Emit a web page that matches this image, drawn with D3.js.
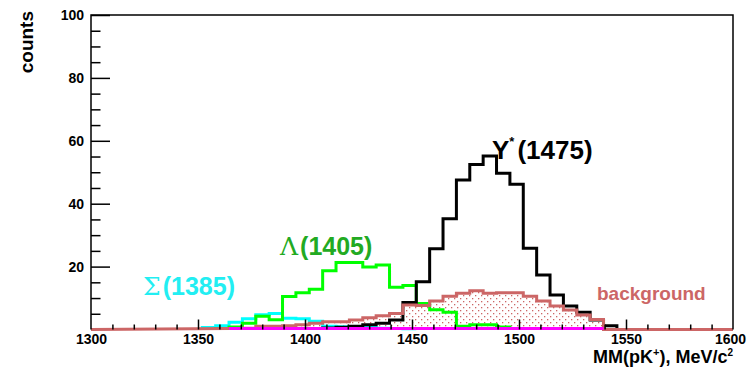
<!DOCTYPE html>
<html>
<head>
<meta charset="utf-8">
<script src="https://cdn.jsdelivr.net/npm/d3@7"></script>
<style>
  body { margin: 0; background: #fff; }
  svg { display: block; font-family: "Liberation Sans", Arial, sans-serif; }
</style>
</head>
<body>
<svg id="chart"></svg>
<script>
var WIDTH = 753;
var HEIGHT = 367;

// binning shared by all histograms (MeV/c^2)
var binStart = 1302;
var binWidth = 6.25;

// counts per bin, each series starts at its own bin index
var bgFirst = 10;
var bgCounts = [0.3, 0.4, 1.0, 1.0, 1.2, 1.5, 2.0, 2.5, 2.5, 3.0, 3.7, 4.4, 5.1,
  7.8, 7.6, 9.1, 10.6, 11.5, 12.3, 11.5, 11.7, 11.7, 10.6, 9.1, 7.5, 6.2, 4.6, 3.2];

var sigmaFirst = 8;
var sigmaCounts = [0.6, 1.2, 2.3, 3.4, 4.7, 5.1, 3.6, 3.4, 2.6, 1.0, 0.9, 0.8, 0.6, 0.4, 0.3, 0.2];

var lambdaFirst = 9;
var lambdaCounts = [0.3, 0.8, 2.0, 4.2, 3.1, 10.5, 11.7, 12.8, 18.7, 21.3, 21.3, 19.9, 20.5,
  13.4, 14.0, 8.3, 6.3, 5.5, 1.0, 1.5, 1.5, 0.8];

var yStarFirst = 16;
var yStarCounts = [0.3, 0.5, 0.7, 1.0, 1.5, 2.0, 3.0, 8.6, 15.2, 25.7, 35.2, 47.5, 52.5, 55.2,
  49.7, 46.2, 25.8, 17.3, 11.0, 7.5, 5.5, 3.0, 1.2];

var otherFirst = 10;
var otherCounts = [0.3, 0.3, 0.3, 0.3, 0.3, 0.3, 0.3, 0.3, 0.3, 0.3, 0.3, 0.3, 0.3, 0.3,
  0.3, 0.3, 0.3, 0.3, 0.3, 0.3, 0.3, 0.3, 0.3, 0.3, 0.3, 0.3, 0.3, 0.3];

var xMajor = [1300, 1350, 1400, 1450, 1500, 1550, 1600];
var yMajor = [20, 40, 60, 80, 100];

var svg = d3.select('#chart')
  .attr('width', WIDTH)
  .attr('height', HEIGHT);

var xScale = d3.scaleLinear().domain([1300, 1600]).range([91, 733]);
var yScale = d3.scaleLinear().domain([0, 100]).range([329.5, 15]);

var defs = svg.append('defs');
var pat = defs.append('pattern')
  .attr('id', 'dots')
  .attr('patternUnits', 'userSpaceOnUse')
  .attr('width', 6)
  .attr('height', 6);
pat.append('rect').attr('x', 1).attr('y', 1).attr('width', 1.3).attr('height', 1.3).attr('fill', '#cc6666');
pat.append('rect').attr('x', 4).attr('y', 4).attr('width', 1.3).attr('height', 1.3).attr('fill', '#cc6666');

// step outline of a histogram, rising from and falling back to zero
var stepPoints = function(first, counts, from, to) {
  var pts = [];
  var lo = binStart + first * binWidth;
  var hi = binStart + (first + counts.length) * binWidth;
  pts.push([from !== undefined ? from : lo, 0]);
  counts.forEach(function(c, i) {
    var x0 = binStart + (first + i) * binWidth;
    pts.push([x0, c]);
    pts.push([x0 + binWidth, c]);
  });
  pts.push([hi, 0]);
  if (to !== undefined) pts.push([to, 0]);
  return pts;
};

var line = d3.line()
  .x(function(d) { return xScale(d[0]); })
  .y(function(d) { return yScale(d[1]); });

var area = d3.area()
  .x(function(d) { return xScale(d[0]); })
  .y0(yScale(0))
  .y1(function(d) { return yScale(d[1]); });

var plot = svg.append('g').attr('id', 'hists');

var bgPts = stepPoints(bgFirst, bgCounts, 1300, 1600);
plot.append('path')
  .attr('d', area(bgPts))
  .attr('fill', 'url(#dots)');

var drawHist = function(pts, color) {
  plot.append('path')
    .attr('d', line(pts))
    .attr('fill', 'none')
    .attr('stroke', color)
    .attr('stroke-width', 3)
    .attr('stroke-linejoin', 'miter');
};

drawHist(stepPoints(sigmaFirst, sigmaCounts), '#00ffff');
drawHist(stepPoints(lambdaFirst, lambdaCounts), '#00ff00');
drawHist(stepPoints(yStarFirst, yStarCounts), '#000000');
drawHist(bgPts, '#cc6666');

// small channel along the floor, only where it is filled
var oLo = binStart + otherFirst * binWidth;
var oHi = binStart + (otherFirst + otherCounts.length) * binWidth;
plot.append('path')
  .attr('d', line(otherCounts.map(function(c, i) { return [oLo + i * binWidth, c]; }).concat([[oHi, otherCounts[otherCounts.length - 1]]])))
  .attr('fill', 'none')
  .attr('stroke', '#ff00ff')
  .attr('stroke-width', 3);

// frame
svg.append('path')
  .attr('d', 'M' + xScale(1300) + ',' + yScale(0) + 'V' + yScale(100) + 'H' + xScale(1600) + 'V' + yScale(0))
  .attr('fill', 'none')
  .attr('stroke', '#000')
  .attr('stroke-width', 1.5);

// axes, ticks pointing into the frame
var xMinorAxis = d3.axisBottom(xScale)
  .tickValues(d3.range(1310, 1600, 10).filter(function(v) { return v % 50 !== 0; }))
  .tickSize(-5)
  .tickFormat('');
var xAxis = d3.axisBottom(xScale)
  .tickValues(xMajor)
  .tickSize(-10)
  .tickPadding(5)
  .tickFormat(d3.format('d'));

var yMinorAxis = d3.axisLeft(yScale)
  .tickValues(d3.range(5, 100, 5).filter(function(v) { return v % 20 !== 0; }))
  .tickSize(-9.5)
  .tickFormat('');
var yAxis = d3.axisLeft(yScale)
  .tickValues(yMajor)
  .tickSize(-19)
  .tickPadding(7)
  .tickFormat(d3.format('d'));

var gx1 = svg.append('g').attr('transform', 'translate(0,' + yScale(0) + ')').call(xMinorAxis);
var gx = svg.append('g').attr('id', 'x-axis').attr('transform', 'translate(0,' + yScale(0) + ')').call(xAxis);
var gy1 = svg.append('g').attr('transform', 'translate(' + xScale(1300) + ',0)').call(yMinorAxis);
var gy = svg.append('g').attr('id', 'y-axis').attr('transform', 'translate(' + xScale(1300) + ',0)').call(yAxis);

[gx1, gx, gy1, gy].forEach(function(g) {
  g.select('.domain').remove();
  g.selectAll('line').attr('stroke', '#000').attr('stroke-width', 1.5);
  g.selectAll('text')
    .attr('fill', '#000')
    .style('font-size', '14px')
    .style('font-weight', 'bold')
    .style('font-family', '"Liberation Sans", Arial, sans-serif');
});
gx.selectAll('.tick line').filter(function(d) { return d === 1300 || d === 1600; }).remove();
gx.selectAll('.tick text').filter(function(d) { return d === 1600; }).attr('x', -3);

// axis titles
svg.append('text')
  .attr('transform', 'translate(33,11) rotate(-90)')
  .attr('text-anchor', 'end')
  .style('font-size', '19px')
  .style('font-weight', 'bold')
  .text('counts');

var xt = svg.append('text')
  .attr('x', 733)
  .attr('y', 363)
  .attr('text-anchor', 'end')
  .style('font-size', '18px')
  .style('font-weight', 'bold');
xt.append('tspan').text('MM(pK');
xt.append('tspan').attr('dy', -7).style('font-size', '11px').text('+');
xt.append('tspan').attr('dy', 7).text('), MeV/c');
xt.append('tspan').attr('dy', -7).style('font-size', '10px').text('2');

// peak labels
var greek = '"DejaVu Serif", "Liberation Serif", serif';

var ly = svg.append('text').attr('x', 492).attr('y', 159)
  .style('font-size', '26px').style('font-weight', 'bold').attr('fill', '#000');
ly.append('tspan').text('Y');
ly.append('tspan').attr('dy', -13).style('font-size', '13px').text('*');
ly.append('tspan').attr('dy', 13).attr('dx', 3).text('(1475)');

var ll = svg.append('text').attr('x', 280).attr('y', 255)
  .style('font-size', '25px').style('font-weight', 'bold').attr('fill', '#22aa22');
ll.append('tspan').style('font-family', greek).style('font-weight', 'normal').text('\u039B');
ll.append('tspan').attr('dx', 2).text('(1405)');

var ls = svg.append('text').attr('x', 143).attr('y', 295)
  .style('font-size', '25px').style('font-weight', 'bold').attr('fill', '#22eef2');
ls.append('tspan').style('font-family', greek).style('font-weight', 'normal').text('\u03A3');
ls.append('tspan').attr('dx', 2).text('(1385)');

svg.append('text').attr('x', 597).attr('y', 300)
  .style('font-size', '19px').style('font-weight', 'bold').attr('fill', '#cc6666')
  .text('background');
</script>
</body>
</html>
